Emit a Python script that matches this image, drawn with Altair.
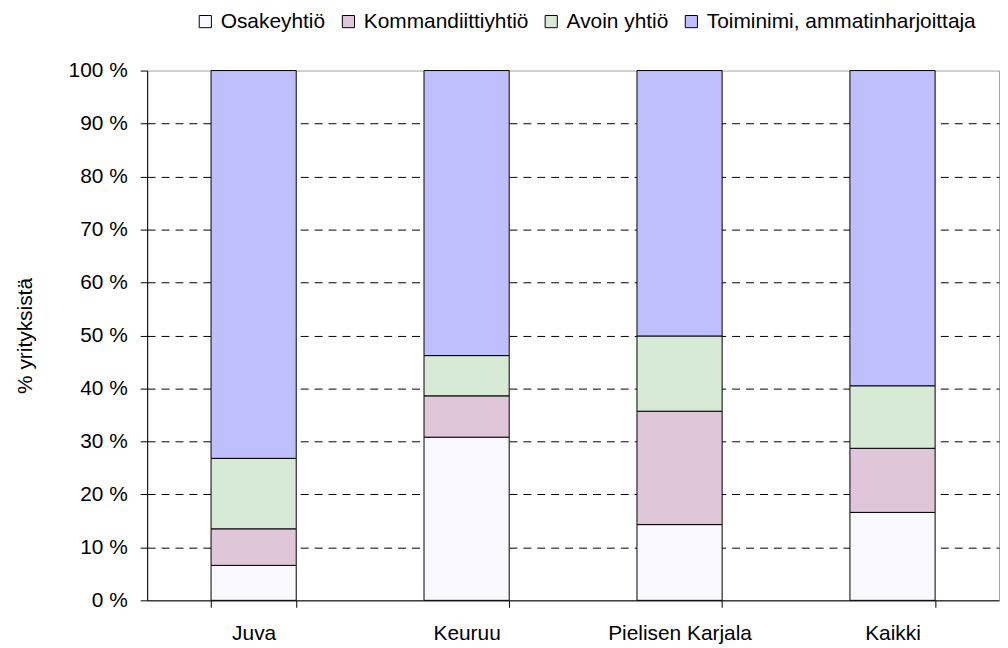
import altair as alt
import pandas as pd

categories = ["Juva", "Keuruu", "Pielisen Karjala", "Kaikki"]
series = ["Osakeyhtiö", "Kommandiittiyhtiö", "Avoin yhtiö", "Toiminimi, ammatinharjoittaja"]
osakeyhtio = [6.6, 30.8, 14.3, 16.6]
kommandiitti = [6.9, 7.8, 21.4, 12.1]
avoin = [13.3, 7.6, 14.2, 11.8]
toiminimi = [73.2, 53.8, 50.1, 59.5]
colors = ["#F8F8FE", "#DFC6D8", "#D6EAD6", "#BFBFFF"]

rows = []
for si, (name, vals) in enumerate(zip(series, [osakeyhtio, kommandiitti, avoin, toiminimi])):
    for c, v in zip(categories, vals):
        rows.append({"cat": c, "series": name, "idx": si, "value": v})
df = pd.DataFrame(rows)

FONT = "Liberation Sans"
FS = 21

chart = alt.Chart(df).mark_bar(stroke="black", strokeWidth=1).encode(
    x=alt.X("cat:N", sort=categories, title=None,
            scale=alt.Scale(paddingInner=0.6, paddingOuter=0.3),
            axis=alt.Axis(labelAngle=0, tickBand="extent", tickSize=7, labelPadding=15,
                          domainColor="black", tickColor="black", grid=False)),
    y=alt.Y("value:Q", stack="zero", title="% yrityksistä",
            scale=alt.Scale(domain=[0, 100], nice=False),
            axis=alt.Axis(values=list(range(0, 101, 10)), labelExpr="datum.value + ' %'",
                          tickSize=7, labelPadding=13, titlePadding=33,
                          domainColor="black", tickColor="black",
                          grid=True, gridColor="black", gridDash=[8, 6], gridWidth=1,
                          gridOpacity={"condition": {"test": "datum.value == 0 || datum.value == 100", "value": 0}, "value": 1})),
    color=alt.Color("series:N", sort=series,
                    scale=alt.Scale(domain=series, range=colors),
                    legend=alt.Legend(title=None, orient="none", direction="horizontal",
                                      legendX=48, legendY=-60,
                                      symbolType="square", symbolSize=150,
                                      symbolStrokeColor="black", symbolStrokeWidth=1,
                                      symbolOpacity=1,
                                      labelOffset=5, columnPadding=12)),
    order=alt.Order("idx:Q", sort="ascending"),
).properties(
    width=857, height=533,
    autosize=alt.AutoSizeParams(type="none"),
    padding={"left": 140, "top": 61, "right": 1, "bottom": 44},
).configure_view(
    stroke="#A0A0A0", strokeWidth=1
).configure_axis(
    labelFont=FONT, titleFont=FONT, labelFontSize=FS, titleFontSize=FS,
    labelColor="black", titleColor="black", titleFontWeight="normal"
).configure_legend(
    labelFont=FONT, labelFontSize=FS, labelColor="black", labelLimit=0
)

chart.save("out.html", embed_options={"renderer": "svg", "actions": False})
